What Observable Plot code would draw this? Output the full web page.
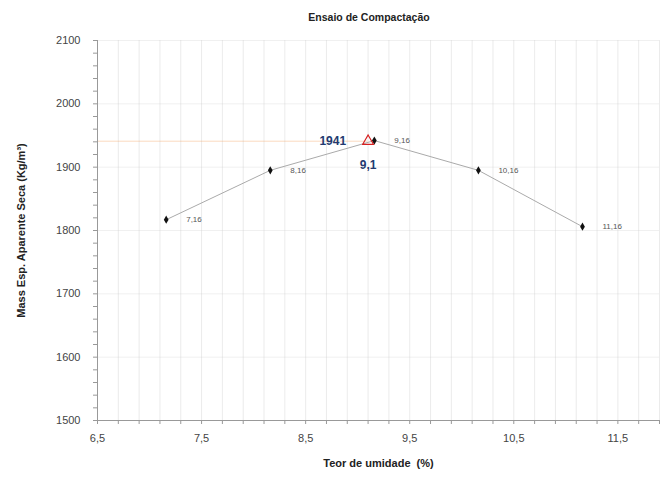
<!DOCTYPE html>
<html>
<head>
<meta charset="utf-8">
<script src="https://cdn.jsdelivr.net/npm/d3@7"></script>
<script src="https://cdn.jsdelivr.net/npm/@observablehq/plot@0.6"></script>
<style>
  body { margin: 0; background: #fff; font-family: "Liberation Sans", Arial, sans-serif; }
  #title { position: relative; height: 30px; width: 668px; }
  #title span { position: absolute; left: 369px; top: 11px; transform: translateX(-50%); font-weight: bold; font-size: 10.5px; color: #222; white-space: nowrap; }
</style>
</head>
<body>
<div id="title"><span>Ensaio de Compactação</span></div>
<div id="chart"></div>
<script>
const umidade = [7.16, 8.16, 9.16, 10.16, 11.16];
const massa = [1817, 1895, 1942, 1895, 1806];
const rotulos = ["7,16", "8,16", "9,16", "10,16", "11,16"];
const maxUmidade = [9.1];
const maxMassa = [1941];
const maxRotuloY = ["1941"];
const maxRotuloX = ["9,1"];
const xTicks = [6.5, 7.5, 8.5, 9.5, 10.5, 11.5];
const xTickLabels = ["6,5", "7,5", "8,5", "9,5", "10,5", "11,5"];
const yTicks = [1500, 1600, 1700, 1800, 1900, 2000, 2100];

const pontos = umidade.map((u, i) => ({u, m: massa[i], r: rotulos[i]}));
const maximo = maxUmidade.map((u, i) => ({u, m: maxMassa[i], ly: maxRotuloY[i], lx: maxRotuloX[i]}));
const xMinor = d3.range(0, 28).map(i => 6.5 + i * 0.2);
const yMinor = d3.range(0, 31).map(i => 1500 + i * 20);

const chart = Plot.plot({
  width: 668,
  height: 453,
  marginTop: 10,
  marginBottom: 63,
  marginLeft: 97,
  marginRight: 9,
  style: {fontFamily: "Liberation Sans, Arial, sans-serif", background: "#fff"},
  x: {domain: [6.5, 11.9]},
  y: {domain: [1500, 2100]},
  marks: [
    Plot.gridX(xMinor, {stroke: "#ccc", strokeOpacity: 0.4}),
    Plot.gridY(yTicks, {stroke: "#ccc", strokeOpacity: 0.3}),
    Plot.ruleY(maxMassa, {x1: 6.5, x2: maxUmidade[0], stroke: "#f2a35e", strokeOpacity: 0.4, strokeWidth: 1}),
    Plot.ruleX([6.5], {stroke: "#999"}),
    Plot.ruleY([1500], {stroke: "#999"}),
    Plot.axisX(xMinor, {tickSize: 4, tickFormat: () => "", stroke: "#999", label: null}),
    Plot.axisX(xTicks, {tickSize: 0, tickPadding: 14, fontSize: 11, fill: "#444",
      tickFormat: (d) => xTickLabels[xTicks.indexOf(d)],
      label: "Teor de umidade  (%)", labelAnchor: "center", labelArrow: "none", labelOffset: 46}),
    Plot.axisY(yMinor, {tickSize: 4, tickFormat: () => "", stroke: "#999", label: null}),
    Plot.axisY(yTicks, {tickSize: 0, tickPadding: 17, fontSize: 11, fill: "#444", tickFormat: d3.format("d"),
      label: "Mass Esp. Aparente Seca (Kg/m³)", labelAnchor: "center", labelArrow: "none", labelOffset: 80}),
    Plot.line(pontos, {x: "u", y: "m", stroke: "#aaa", strokeWidth: 1}),
    Plot.dot(pontos, {x: "u", y: "m", r: 2.5, fill: "#111", symbol: "diamond"}),
    Plot.text(pontos, {x: "u", y: "m", text: "r", dx: 20, textAnchor: "start", fontSize: 8, fill: "#555"}),
    Plot.dot(maximo, {x: "u", y: "m", symbol: "triangle", r: 4, stroke: "#d62020", fill: "none", strokeWidth: 1.2}),
    Plot.text(maximo, {x: "u", y: "m", text: "ly", dx: -22, textAnchor: "end", fontSize: 12, fontWeight: "bold", fill: "#223a70"}),
    Plot.text(maximo, {x: "u", y: "m", text: "lx", dy: 24, textAnchor: "middle", fontSize: 12, fontWeight: "bold", fill: "#223a70"})
  ]
});
chart.querySelectorAll('[aria-label="x-axis label"], [aria-label="y-axis label"]').forEach(g => {
  g.setAttribute("font-weight", "bold");
  g.setAttribute("font-size", "11");
  g.setAttribute("fill", "#222");
});
document.getElementById("chart").appendChild(chart);
</script>
</body>
</html>
